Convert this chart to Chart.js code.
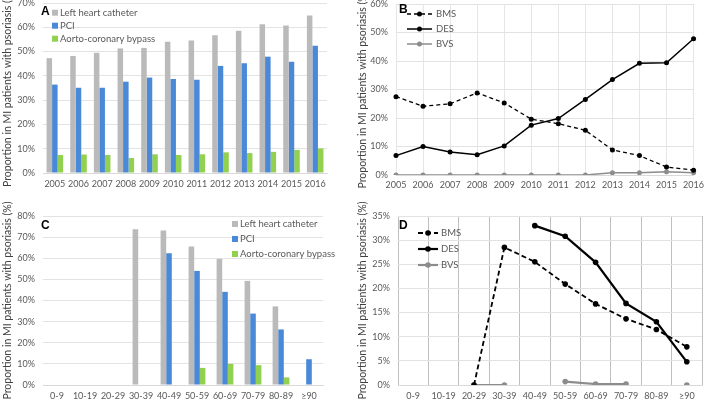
<!DOCTYPE html>
<html>
<head>
<meta charset="utf-8">
<script src="https://cdn.jsdelivr.net/npm/chart.js@4.4.1/dist/chart.umd.min.js"></script>
<style>
    body { margin: 0; background: #fff; width: 709px; height: 401px; overflow: hidden; position: relative; }
    .panel { position: absolute; }
</style>
</head>
<body>
<div class="panel" style="left:0;top:-12px;width:355px;height:212px"><canvas id="chartA"></canvas></div>
<div class="panel" style="left:355px;top:-12px;width:354px;height:212px"><canvas id="chartB"></canvas></div>
<div class="panel" style="left:0;top:188px;width:355px;height:213px"><canvas id="chartC"></canvas></div>
<div class="panel" style="left:355px;top:188px;width:354px;height:213px"><canvas id="chartD"></canvas></div>
<script>
var anios = ['2005', '2006', '2007', '2008', '2009', '2010', '2011', '2012', '2013', '2014', '2015', '2016'],
    edades = ['0-9', '10-19', '20-29', '30-39', '40-49', '50-59', '60-69', '70-79', '80-89', '≥90'];

// A: procedimientos por año
var a_lhc = [47.3, 48.2, 49.5, 51.3, 51.5, 54.0, 54.6, 56.7, 58.6, 61.3, 60.7, 64.9],
    a_pci = [36.4, 35.1, 35.1, 37.6, 39.3, 38.7, 38.4, 44.1, 45.2, 47.9, 45.8, 52.4],
    a_cabg = [7.4, 7.6, 7.4, 6.2, 7.7, 7.4, 7.7, 8.5, 8.2, 8.7, 9.5, 10.1];

// B: stents por año
var b_bms = [27.5, 24.1, 25.0, 28.8, 25.3, 19.6, 18.0, 15.7, 8.8, 6.8, 2.8, 1.7],
    b_des = [6.8, 10.0, 8.1, 7.1, 10.2, 17.5, 19.8, 26.5, 33.5, 39.2, 39.4, 47.8],
    b_bvs = [0, 0, 0, 0, 0, 0, 0, 0, 0.8, 0.8, 1.1, 0.8];

// C: procedimientos por edad
var c_lhc = [null, null, null, 73.7, 73.1, 65.6, 59.7, 49.3, 37.2, null],
    c_pci = [null, null, null, null, 62.4, 54.0, 44.1, 33.8, 26.3, 12.2],
    c_cabg = [null, null, null, null, null, 8.1, 10.0, 9.4, 3.6, null];

// D: stents por edad
var d_bms = [null, null, 0, 28.5, 25.5, 20.9, 16.8, 13.7, 11.5, 7.9],
    d_des = [null, null, null, null, 33.0, 30.8, 25.4, 16.9, 13.1, 4.8],
    d_bvs = [null, null, 0, 0, null, 0.7, 0.2, 0.2, null, 0];

var GRIS = '#bababa', AZUL = '#4a88d8', VERDE = '#92d050',
    TEXTO = '#595959', FUENTE = 'Lato';

var pluginLeyenda = {
    id: 'leyenda',
    afterDraw: function (chart, args, o) {
        if (!o || !o.letra) return;
        var ctx = chart.ctx;
        ctx.save();
        ctx.textBaseline = 'middle';
        ctx.textAlign = 'left';
        ctx.fillStyle = '#000';
        ctx.font = 'bold 12px "Liberation Sans"';
        ctx.fillText(o.letra, o.lx - o.ox, o.ly - o.oy);
        chart.data.datasets.forEach(function (ds, i) {
            var x = o.x - o.ox, y = o.y + i * o.dy - o.oy;
            if (o.tipo === 'caja') {
                ctx.fillStyle = ds.backgroundColor;
                ctx.fillRect(x, y - 3, 6, 6);
            } else {
                ctx.strokeStyle = ds.borderColor;
                ctx.lineWidth = ds.borderWidth;
                ctx.setLineDash(ds.borderDash || []);
                ctx.beginPath();
                ctx.moveTo(x, y);
                ctx.lineTo(x + o.w, y);
                ctx.stroke();
                ctx.setLineDash([]);
                ctx.fillStyle = ds.borderColor;
                ctx.beginPath();
                ctx.arc(x + o.w / 2, y, ds.pointRadius, 0, Math.PI * 2);
                ctx.fill();
            }
            ctx.fillStyle = TEXTO;
            ctx.font = '9.5px ' + FUENTE;
            ctx.fillText(ds.label, x + o.tx, y);
        });
        ctx.restore();
    }
};
Chart.register(pluginLeyenda);

function opciones(cfg) {
    return {
        responsive: true,
        maintainAspectRatio: false,
        animation: false,
        layout: { padding: { left: 0, top: cfg.top, right: cfg.right, bottom: 0 } },
        plugins: {
            legend: { display: false },
            tooltip: { enabled: false },
            leyenda: cfg.leyenda
        },
        scales: {
            x: {
                offset: cfg.offset,
                grid: { display: cfg.vgrid, color: cfg.vcolor, drawTicks: false, offset: cfg.offset },
                border: { display: true, color: '#d9d9d9' },
                ticks: { font: { family: FUENTE, size: 9 }, color: TEXTO, padding: cfg.xpad, maxRotation: 0, autoSkip: false },
                afterFit: function (s) { s.height = cfg.xh; }
            },
            y: {
                min: 0,
                max: cfg.max,
                ticks: {
                    stepSize: cfg.paso,
                    font: { family: FUENTE, size: 9 },
                    color: TEXTO,
                    padding: 8,
                    callback: function (v) { return v + '%'; }
                },
                grid: { color: '#e3e3e3', drawTicks: false },
                border: { display: false },
                title: {
                    display: true,
                    text: 'Proportion in MI patients with psoriasis (%)',
                    font: { family: FUENTE, size: 10.5 },
                    color: '#404040',
                    padding: { top: 1, bottom: 0 }
                },
                afterFit: function (s) { s.width = cfg.yw; }
            }
        }
    };
}

function barras(label, data, color, pct) {
    return { label: label, data: data, backgroundColor: color, categoryPercentage: pct, barPercentage: 1 };
}
function linea(label, data, color, ancho, dash, radio) {
    return {
        label: label, data: data, borderColor: color, backgroundColor: color, borderWidth: ancho,
        borderDash: dash, pointRadius: radio, pointBackgroundColor: color, pointBorderWidth: 0,
        spanGaps: false, tension: 0
    };
}

new Chart(document.getElementById('chartA'), {
    type: 'bar',
    data: {
        labels: anios,
        datasets: [
            barras('Left heart catheter', a_lhc, GRIS, 0.7),
            barras('PCI', a_pci, AZUL, 0.7),
            barras('Aorto-coronary bypass', a_cabg, VERDE, 0.7)
        ]
    },
    options: opciones({
        top: 15, right: 28, yw: 43, xh: 27, xpad: 6, max: 70, paso: 10, offset: true, vgrid: false,
        leyenda: { letra: 'A', lx: 41, ly: 12, ox: 0, oy: -12, tipo: 'caja', x: 52, y: 12.7, dy: 13, tx: 8 }
    })
});

new Chart(document.getElementById('chartB'), {
    type: 'line',
    data: {
        labels: anios,
        datasets: [
            linea('BMS', b_bms, '#000', 1.3, [4, 3], 2.5),
            linea('DES', b_des, '#000', 1.5, [], 2.5),
            linea('BVS', b_bvs, '#8c8c8c', 1.5, [], 2.5)
        ]
    },
    options: opciones({
        top: 16, right: 9, yw: 41, xh: 25, xpad: 5, max: 60, paso: 10, offset: false, vgrid: true, vcolor: '#e6e6e6',
        leyenda: { letra: 'B', lx: 399, ly: 10, ox: 355, oy: -12, tipo: 'linea', x: 407, y: 14, dy: 15, w: 25, tx: 29 }
    })
});

new Chart(document.getElementById('chartC'), {
    type: 'bar',
    data: {
        labels: edades,
        datasets: [
            barras('Left heart catheter', c_lhc, GRIS, 0.6),
            barras('PCI', c_pci, AZUL, 0.6),
            barras('Aorto-coronary bypass', c_cabg, VERDE, 0.6)
        ]
    },
    options: opciones({
        top: 28, right: 32, yw: 43, xh: 16, xpad: 6, max: 80, paso: 10, offset: true, vgrid: false,
        leyenda: { letra: 'C', lx: 41, ly: 226, ox: 0, oy: 188, tipo: 'caja', x: 232, y: 224, dy: 15, tx: 8 }
    })
});

new Chart(document.getElementById('chartD'), {
    type: 'line',
    data: {
        labels: edades,
        datasets: [
            linea('BMS', d_bms, '#000', 1.8, [5, 3], 2.8),
            linea('DES', d_des, '#000', 2.2, [], 2.8),
            linea('BVS', d_bvs, '#8c8c8c', 2.2, [], 2.8)
        ]
    },
    options: opciones({
        top: 28, right: 7, yw: 43, xh: 16, xpad: 6, max: 35, paso: 5, offset: true, vgrid: true, vcolor: '#bfbfbf',
        leyenda: { letra: 'D', lx: 399, ly: 226, ox: 355, oy: 188, tipo: 'linea', x: 418, y: 233, dy: 16, w: 20, tx: 23 }
    })
});
</script>
</body>
</html>
